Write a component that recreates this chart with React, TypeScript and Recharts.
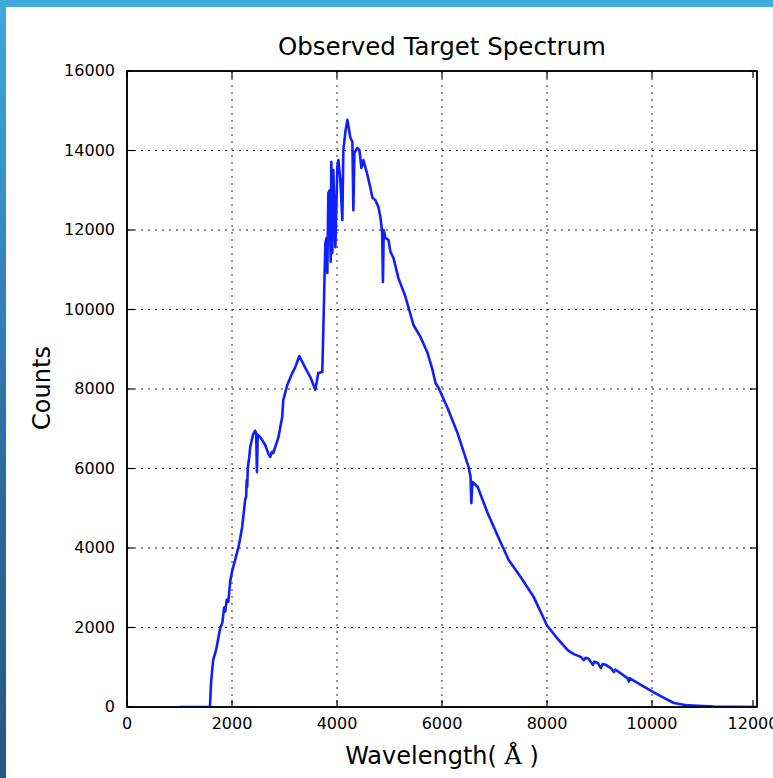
import { LineChart, Line, XAxis, YAxis, CartesianGrid, ReferenceArea } from 'recharts'

// spectrum (wavelength in Å, counts)
const WAVELENGTH = [
  1000, 1580, 1600, 1641, 1700, 1775, 1813, 1850, 1870, 1900, 1930, 1965, 2000, 2022, 2060, 2118, 2150, 2194,
  2250, 2270, 2280, 2290, 2300, 2330, 2347, 2400, 2440, 2460, 2475, 2490, 2538, 2633, 2700, 2728, 2760, 2786,
  2881, 2957, 2976, 3053, 3148, 3205, 3282, 3396, 3492, 3587, 3644, 3720, 3745, 3778, 3800, 3816, 3835, 3860,
  3880, 3892, 3911, 3930, 3969, 4007, 4026, 4064, 4102, 4121, 4160, 4198, 4255, 4293, 4312, 4331, 4388, 4427,
  4465, 4503, 4579, 4636, 4675, 4732, 4789, 4827, 4860, 4875, 4890, 4922, 4980, 5018, 5075, 5170, 5304, 5457,
  5590, 5724, 5819, 5877, 5934, 6106, 6296, 6506, 6544, 6558, 6580, 6678, 6869, 7079, 7270, 7498, 7746, 8000,
  8200, 8395, 8510, 8643, 8700, 8740, 8796, 8872, 8900, 8968, 9025, 9060, 9120, 9216, 9273, 9300, 9368, 9540,
  9559, 9580, 9731, 10017, 10227, 10418, 10685, 11181, 12000,
]
const COUNTS = [
  0, 0, 600, 1180, 1450, 1990, 2100, 2500, 2400, 2700, 2650, 3150, 3400, 3520, 3700, 4000, 4200, 4530,
  5210, 5300, 5700, 5540, 6000, 6300, 6540, 6850, 6950, 6900, 5910, 6850, 6790, 6590, 6350, 6290, 6420, 6390,
  6770, 7300, 7720, 8100, 8400, 8550, 8830, 8530, 8300, 7980, 8400, 8430, 9800, 11670, 11800, 10920, 12930, 13000,
  11200, 13710, 11420, 13510, 11570, 13590, 13760, 13260, 12250, 14010, 14470, 14770, 14320, 14220, 12500, 13940, 14060, 14010,
  13560, 13760, 13390, 13060, 12810, 12750, 12580, 12330, 11950, 10690, 12000, 11800, 11750, 11450, 11300, 10790, 10320, 9610,
  9310, 8910, 8480, 8150, 8030, 7520, 6890, 6040, 5790, 5130, 5660, 5540, 4880, 4250, 3700, 3270, 2770, 2050,
  1720, 1430, 1330, 1260, 1180, 1240, 1210, 1060, 1140, 1110, 980, 1080, 1060, 980, 880, 940, 880, 720,
  640, 720, 600, 380, 230, 100, 40, 10, 0,
]
const X_TICKS = [0, 2000, 4000, 6000, 8000, 10000, 12000]
const Y_TICKS = [0, 2000, 4000, 6000, 8000, 10000, 12000, 14000, 16000]

const data = WAVELENGTH.map((wl, i) => ({ wl, counts: COUNTS[i] }))

const FONT = '"DejaVu Sans", sans-serif'
const TICK_LEN = 7

// matplotlib-style ticks: pointing into the axes box
// eslint-disable-next-line @typescript-eslint/no-explicit-any
const BottomTick = (props: any) => {
  const { x, y, payload } = props
  return (
    <g>
      <line x1={x} y1={y} x2={x} y2={y - TICK_LEN} stroke="#000" strokeWidth={1.2} />
      <text x={x} y={y + 22} textAnchor="middle" fontFamily={FONT} fontSize={16} fill="#000">
        {payload.value}
      </text>
    </g>
  )
}
// eslint-disable-next-line @typescript-eslint/no-explicit-any
const LeftTick = (props: any) => {
  const { x, y, payload } = props
  return (
    <g>
      <line x1={x} y1={y} x2={x + TICK_LEN} y2={y} stroke="#000" strokeWidth={1.2} />
      <text x={x - 12} y={y + 5} textAnchor="end" fontFamily={FONT} fontSize={16} fill="#000">
        {payload.value}
      </text>
    </g>
  )
}
// eslint-disable-next-line @typescript-eslint/no-explicit-any
const TopTick = (props: any) => {
  const { x, y } = props
  return <line x1={x} y1={y} x2={x} y2={y + TICK_LEN} stroke="#000" strokeWidth={1.2} />
}
// eslint-disable-next-line @typescript-eslint/no-explicit-any
const RightTick = (props: any) => {
  const { x, y } = props
  return <line x1={x} y1={y} x2={x - TICK_LEN} y2={y} stroke="#000" strokeWidth={1.2} />
}

export default function App() {
  return (
    <div style={{ position: 'absolute', left: 0, top: 0, width: 773, height: 778, background: '#fff', overflow: 'hidden' }}>
      <div style={{ position: 'absolute', left: 0, top: 0, width: 773, height: 7, background: '#3fa9dd' }} />
      <div
        style={{
          position: 'absolute', left: 0, top: 0, width: 6, height: 778,
          background: 'linear-gradient(#3fa9dd, #2d6aa0 60%, #2a5585)',
        }}
      />
      <div
        style={{
          position: 'absolute', left: 127, width: 630, top: 33, textAlign: 'center',
          fontFamily: FONT, fontSize: 24.5, color: '#000', lineHeight: '28px',
        }}
      >
        Observed Target Spectrum
      </div>
      <div
        style={{
          position: 'absolute', left: 42, top: 388, transform: 'translate(-50%, -50%) rotate(-90deg)',
          fontFamily: FONT, fontSize: 24, color: '#000', whiteSpace: 'nowrap', lineHeight: '28px',
        }}
      >
        Counts
      </div>
      <div
        style={{
          position: 'absolute', left: 127, width: 630, top: 741, textAlign: 'center',
          fontFamily: FONT, fontSize: 24, color: '#000', lineHeight: '30px', whiteSpace: 'nowrap',
        }}
      >
        Wavelength(&nbsp;<span style={{ fontFamily: '"DejaVu Serif", serif' }}>Å</span>&nbsp;)
      </div>
      <div style={{ position: 'absolute', left: 0, top: 0 }}>
        <LineChart width={773} height={778} data={data} margin={{ top: 70, right: 0, bottom: 0, left: 0 }}>
          <CartesianGrid stroke="#222" strokeWidth={1} strokeDasharray="2 5" horizontal vertical
            horizontalValues={Y_TICKS.slice(1, -1)} verticalValues={X_TICKS.slice(1, -1)} />
          <XAxis dataKey="wl" type="number" domain={[0, 12000]} ticks={X_TICKS} allowDataOverflow
            height={71} tickSize={0} tickMargin={0} tick={BottomTick} axisLine={{ stroke: '#000', strokeWidth: 1.5 }} tickLine={false} />
          <XAxis xAxisId="top" orientation="top" dataKey="wl" type="number" domain={[0, 12000]} ticks={X_TICKS} allowDataOverflow
            height={1} tickSize={0} tickMargin={0} tick={TopTick} axisLine={{ stroke: '#000', strokeWidth: 1.5 }} tickLine={false} />
          <YAxis type="number" domain={[0, 16000]} ticks={Y_TICKS} allowDataOverflow
            width={127} tickSize={0} tickMargin={0} tick={LeftTick} axisLine={{ stroke: '#000', strokeWidth: 1.5 }} tickLine={false} />
          <YAxis yAxisId="right" orientation="right" type="number" domain={[0, 16000]} ticks={Y_TICKS} allowDataOverflow
            width={16} tickSize={0} tickMargin={0} tick={RightTick} axisLine={{ stroke: '#000', strokeWidth: 1.5 }} tickLine={false} />
          <ReferenceArea x1={0} x2={12000} y1={0} y2={16000} fill="none" stroke="#000" strokeWidth={1.5} ifOverflow="visible" />
          {/* invisible copy so the top/right tick axes get drawn */}
          <Line xAxisId="top" yAxisId="right" type="linear" dataKey="counts" stroke="none" dot={false} activeDot={false} isAnimationActive={false} />
          <Line type="linear" dataKey="counts" stroke="#0f1fff" strokeWidth={2.6} strokeLinejoin="round" dot={false} isAnimationActive={false} />
        </LineChart>
      </div>
    </div>
  )
}
